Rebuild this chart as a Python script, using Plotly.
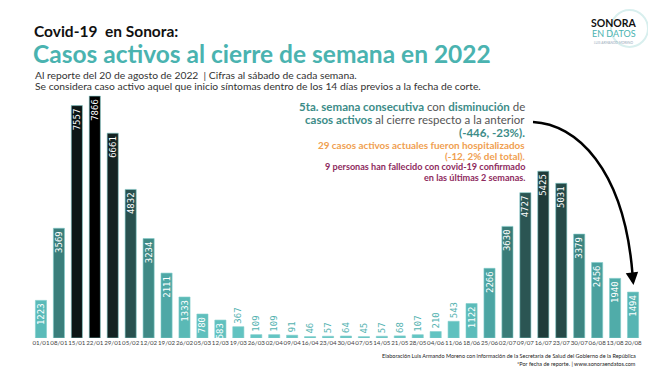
import plotly.graph_objects as go

# ---- data ----
semanas = ["01/01", "08/01", "15/01", "22/01", "29/01", "05/02", "12/02", "19/02", "26/02",
           "05/03", "12/03", "19/03", "26/03", "02/04", "09/04", "16/04", "23/04", "30/04",
           "07/05", "14/05", "21/05", "28/05", "04/06", "11/06", "18/06", "25/06", "02/07",
           "09/07", "16/07", "23/07", "30/07", "06/08", "13/08", "20/08"]
casos_activos = [1223, 3569, 7557, 7866, 6661, 4832, 3234, 2111, 1333,
                 780, 583, 367, 109, 109, 91, 46, 57, 64,
                 45, 57, 68, 107, 210, 543, 1122, 2266, 3630,
                 4727, 5425, 5031, 3379, 2456, 1940, 1494]

W, H = 656, 369
L, R, T, B = 24, 22, 84, 39
PW, PH = W - L - R, H - T - B


def px(x):
    return (x - L) / PW


def py(y):
    return (H - B - y) / PH


colorscale = [
    [0.0, "#64c6c4"],
    [0.15, "#5cbcba"],
    [0.25, "#50aba8"],
    [0.31, "#4aa2a0"],
    [0.43, "#3d8581"],
    [0.6, "#2b5553"],
    [0.69, "#1f3c3a"],
    [0.85, "#142222"],
    [0.96, "#0b1515"],
    [1.0, "#000000"],
]

textpos = ["inside" if v >= 560 else "outside" for v in casos_activos]

fig = go.Figure()
fig.add_trace(go.Bar(
    x=semanas,
    y=casos_activos,
    text=[str(v) for v in casos_activos],
    textposition=textpos,
    textangle=-90,
    insidetextanchor="end",
    insidetextfont=dict(family="DejaVu Sans Mono", size=9, color="white"),
    outsidetextfont=dict(family="DejaVu Sans Mono", size=9, color="#52b2b0"),
    cliponaxis=False,
    marker=dict(color=casos_activos, colorscale=colorscale, cmin=0, cmax=max(casos_activos),
                line=dict(color="rgba(130,205,203,0.75)", width=0.8)),
    hoverinfo="x+y",
))

ann = []
# titles
ann.append(dict(text="<b>Covid-19  en Sonora:</b>", x=px(24), y=py(23), xanchor="left", yanchor="middle",
                font=dict(family="Lato", size=15.5, color="#111")))
ann.append(dict(text="<b>Casos activos al cierre de semana en 2022</b>", x=px(23), y=py(45), xanchor="left",
                yanchor="middle", font=dict(family="Lato", size=24.5, color="#4ab3b0")))
ann.append(dict(text="Al reporte del 20 de agosto de 2022  | Cifras al sábado de cada semana.", x=px(25), y=py(67.5),
                xanchor="left", yanchor="middle", font=dict(family="Lato", size=10.3, color="#333")))
ann.append(dict(text="Se considera caso activo aquel que inicio síntomas dentro de los 14 días previos a la fecha de corte.",
                x=px(25), y=py(78.5), xanchor="left", yanchor="middle", font=dict(family="Lato", size=10.3, color="#333")))

# commentary block
teal = "#3c8c88"
gray = "#555"
lines = [
    (f"<b>5ta. semana consecutiva</b><span style='color:{gray}'> con </span><b>disminución</b><span style='color:{gray}'> de</span>", 98, 11.5, teal),
    (f"<b>casos activos</b><span style='color:{gray}'> al cierre respecto a la anterior</span>", 111.5, 11.5, teal),
    ("<b>(-446, -23%).</b>", 124.5, 11.5, teal),
    ("<b>29 casos activos actuales fueron hospitalizados</b>", 136.5, 9.9, "#f0a050"),
    ("<b>(-12, 2% del total).</b>", 147.5, 9.9, "#f0a050"),
    ("<b>9 personas han fallecido con covid-19 confirmado</b>", 158.5, 9.1, "#8e2b5e"),
    ("<b>en las últimas 2 semanas.</b>", 169, 9.1, "#8e2b5e"),
]
for txt, yy, sz, col in lines:
    ann.append(dict(text=txt, x=px(519), y=py(yy), xanchor="right", yanchor="middle",
                    font=dict(family="Lato", size=sz, color=col)))

# arrow head
ann.append(dict(text="", x=px(625.5), y=py(277), xref="paper", yref="paper", showarrow=True,
                ax=-1.5, ay=-12, arrowhead=2, arrowsize=1, arrowwidth=2.5, arrowcolor="black"))

# logo
ann.append(dict(text="<b>SONORA</b>", x=px(606), y=py(15.5), xanchor="center", yanchor="middle",
                font=dict(family="Lato", size=10.5, color="#111")))
ann.append(dict(text="EN DATOS", x=px(606), y=py(25), xanchor="center", yanchor="middle",
                font=dict(family="Lato", size=9, color="#4ab3b0")))
ann.append(dict(text="LUIS ARMANDO MORENO", x=px(606), y=py(35.5), xanchor="center", yanchor="middle",
                font=dict(family="Lato", size=3.2, color="#9ab")))

# footer
ann.append(dict(text="Elaboración Luis Armando Moreno con información de la Secretaría de Salud del Gobierno de la República",
                x=px(630), y=py(348), xanchor="right", yanchor="middle",
                font=dict(family="Lato", size=5.5, color="#222")))
ann.append(dict(text="*Por fecha de reporte. | www.sonoraendatos.com",
                x=px(630), y=py(356), xanchor="right", yanchor="middle",
                font=dict(family="Lato", size=5.5, color="#222")))

for a in ann:
    a.setdefault("xref", "paper")
    a.setdefault("yref", "paper")
    a.setdefault("showarrow", False)

shapes = [
    dict(type="path", xref="paper", yref="paper",
         path=f"M {px(525)},{py(114)} C {px(568)},{py(116)} {px(616)},{py(160)} {px(624.5)},{py(266)}",
         line=dict(color="black", width=2.5)),
    dict(type="circle", xref="paper", yref="paper", x0=px(603), x1=px(640), y0=py(39), y1=py(2),
         line=dict(color="#d8efee", width=2)),
]

fig.update_layout(
    width=W, height=H,
    margin=dict(l=L, r=R, t=T, b=B),
    paper_bgcolor="white", plot_bgcolor="white",
    bargap=0.38,
    showlegend=False,
    annotations=ann,
    shapes=shapes,
    uniformtext=dict(minsize=9, mode="show"),
    xaxis=dict(type="category", tickangle=0, showgrid=False, showline=False, ticks="", zeroline=False,
               tickfont=dict(family="Lato", size=6.2, color="#444")),
    yaxis=dict(range=[0, 8000], visible=False, showgrid=False, zeroline=False),
)

fig.write_html("out.html")
